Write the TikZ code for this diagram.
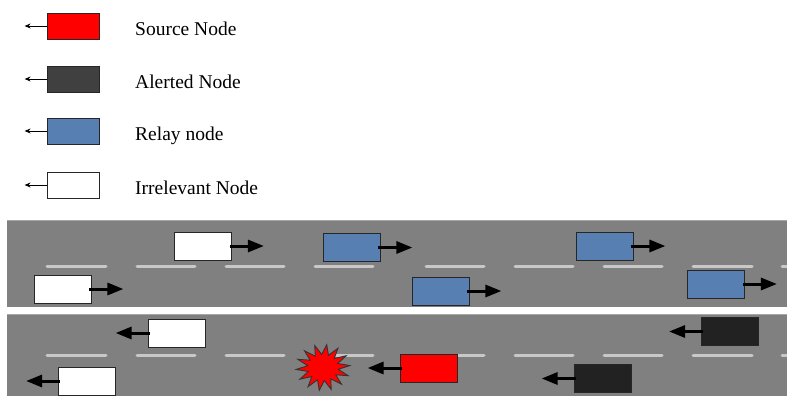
\documentclass[tikz,border=0pt]{standalone}
\usepackage{fontspec}
\setmainfont{Liberation Serif}
\usetikzlibrary{calc}
\usetikzlibrary{positioning}
\usetikzlibrary{arrows.meta}
\usetikzlibrary{shapes.geometric}

\definecolor{roadgray}{RGB}{128,128,128}
\definecolor{lanegray}{RGB}{200,200,200}
\definecolor{relayblue}{RGB}{88,127,178}
\definecolor{alertgray}{RGB}{34,34,34}
\definecolor{keygray}{RGB}{64,64,64}

\begin{document}
\begin{tikzpicture}[x=1pt,y=-1pt,
	  car node/.style={rectangle,draw=black!85,line width=0.8pt,minimum width=57pt,minimum height=28pt,inner sep=0pt},
	  key node/.style={rectangle,draw=black!85,line width=0.8pt,minimum width=52pt,minimum height=26pt,inner sep=0pt},
	  key text/.style={anchor=base west,font=\fontsize{19.5}{22}\selectfont,inner sep=0pt},
	  move/.style={line width=3pt,-{Triangle[length=16pt,width=12pt]}},
	  key move/.style={line width=0.9pt,-{Stealth[length=6pt,width=5pt]}},
	  lane/.style={lanegray,line width=3pt,line cap=round}]

	 \useasboundingbox (0,0) rectangle (787,396);

	 % legend
	 \node[key node, fill=red] (ksrc) at (73,26) {};
	 \node[key node, fill=keygray] (kalr) at (73,79) {};
	 \node[key node, fill=relayblue] (krel) at (73,131) {};
	 \node[key node, fill=white] (kirr) at (73,185) {};
	 \foreach \k/\txt in {ksrc/Source Node,kalr/Alerted Node,krel/Relay node,kirr/Irrelevant Node}{
	   \coordinate[left=22pt of \k] (\k tip);
	   \draw[key move] (\k.west) -- (\k tip);
	   \node[key text] (\k txt) at ($(\k.center)+(62,9.5)$) {\txt};
	 }

	 % roads
	 \fill[roadgray] (7,220) rectangle (787,307);
	 \fill[roadgray] (7,314) rectangle (787,398);
	 \draw[gray!70,line width=0.8pt] (7,220.4) -- (787,220.4);
	 \draw[gray!70,line width=0.8pt] (7,314.4) -- (787,314.4);
	 \foreach \y in {266,355}{
	   \foreach \a/\b in {47/106,137/195,226/284,315/373,426/484,515/573,604/662,693/752,782/800}
	     \draw[lane] (\a,\y) -- (\b,\y);
	 }

	 % upper road, moving right
	 \node[car node, fill=white] (irr1) at (203,246) {};
	 \node[car node, fill=white] (irr2) at (62.5,289) {};
	 \node[car node, fill=relayblue] (rel1) at (351.5,247.5) {};
	 \node[car node, fill=relayblue] (rel2) at (440.5,291) {};
	 \node[car node, fill=relayblue] (rel3) at (604.5,246) {};
	 \node[car node, fill=relayblue] (rel4) at (716,284) {};
	 \foreach \c in {irr1,irr2,rel1,rel2,rel3,rel4}{
	   \coordinate[right=32pt of \c] (\c tip);
	   \draw[move] ([xshift=-2pt]\c.east) -- (\c tip);
	 }

	 % lower road, moving left
	 \node[car node, fill=white] (irr3) at (176.5,333) {};
	 \node[car node, fill=white] (irr4) at (87,381) {};
	 \node[car node, fill=red] (src) at (428.5,368) {};
	 \node[car node, fill=alertgray] (alr1) at (730,331.5) {};
	 \node[car node, fill=alertgray] (alr2) at (602.5,378.5) {};
	 \foreach \c in {irr3,irr4,src,alr1,alr2}{
	   \coordinate[left=32pt of \c] (\c tip);
	   \draw[move] ([xshift=2pt]\c.west) -- (\c tip);
	 }

	 % crash
	 \begin{scope}[shift={(323,367.5)},xscale=1.17]
	 \node[star,star points=14,star point ratio=1.75,minimum size=46pt,inner sep=0pt,
	   fill=red,draw=black!80,line width=0.9pt,rotate=-8,transform shape] (crash) at (0,0) {};
	 \end{scope}
\end{tikzpicture}
\end{document}
